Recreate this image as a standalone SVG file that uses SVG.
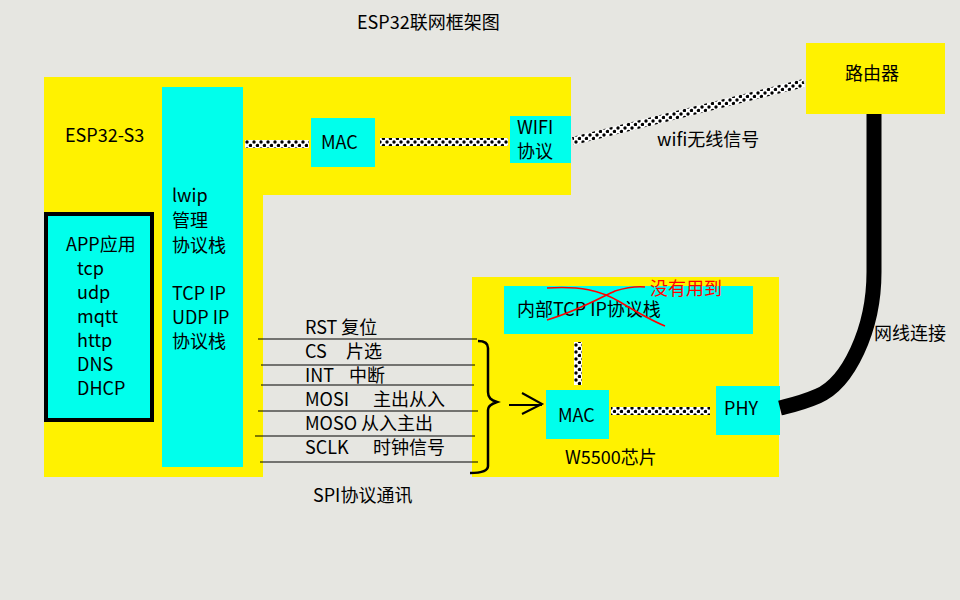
<svg xmlns="http://www.w3.org/2000/svg" width="960" height="600" viewBox="0 0 960 600">
<style>
text{font-family:"Noto Sans CJK SC","Noto Sans",sans-serif;font-size:18px;fill:#000}
.y{fill:#fff200}
.c{fill:#00ffec}
.dot{fill:none;stroke:url(#dots);stroke-width:8}
.thin{stroke:#000;stroke-width:1.2;fill:none}
.red{fill:#ff0000}
</style>
<defs>
<pattern id="dots" patternUnits="userSpaceOnUse" width="7" height="7">
<rect width="7" height="7" fill="#fff"/>
<circle cx="2" cy="2" r="1.7" fill="#000"/>
<circle cx="5.5" cy="5.5" r="1.7" fill="#000"/>
</pattern>
</defs>
<rect width="960" height="600" fill="#e6e6e1"/>
<text x="357" y="29">ESP32联网框架图</text>

<g id="esp32">
<path class="y" d="M44 77H571V195H263V477H44Z"/>
<text x="65" y="142">ESP32-S3</text>
</g>
<g id="lwip">
<rect class="c" x="162" y="87" width="81" height="380"/>
<text x="172" y="202">lwip</text>
<text x="172" y="227">管理</text>
<text x="172" y="252">协议栈</text>
<text x="172" y="300">TCP IP</text>
<text x="172" y="324">UDP IP</text>
<text x="172" y="348">协议栈</text>
</g>
<g id="app">
<rect class="c" x="46" y="214" width="106" height="206" stroke="#000" stroke-width="4"/>
<text x="66" y="251">APP应用</text>
<text x="77" y="275">tcp</text>
<text x="77" y="299">udp</text>
<text x="77" y="323">mqtt</text>
<text x="77" y="347">http</text>
<text x="77" y="371">DNS</text>
<text x="77" y="395">DHCP</text>
</g>
<g id="mac1">
<rect class="c" x="311" y="118" width="64" height="49"/>
<text x="321" y="149">MAC</text>
</g>
<g id="wifi">
<rect class="c" x="510" y="116" width="61" height="47"/>
<text x="517" y="134">WIFI</text>
<text x="517" y="158">协议</text>
</g>
<g id="router">
<rect class="y" x="806" y="43" width="139" height="71"/>
<text x="845" y="80">路由器</text>
</g>
<g id="w5500">
<rect class="y" x="472" y="277" width="307" height="200"/>
<text x="565" y="464">W5500芯片</text>
</g>
<g id="tcpip">
<rect class="c" x="504" y="286" width="249" height="48"/>
<text x="517" y="316">内部TCP IP协议栈</text>
<path d="M547 288C580 286 600 290 620 302C640 314 655 322 665 326" fill="none" stroke="#f00" stroke-width="1.6"/>
<path d="M547 320C575 312 600 298 615 291C625 288 635 286 645 287" fill="none" stroke="#f00" stroke-width="1.6"/>
<text class="red" x="650" y="295" font-size="19">没有用到</text>
</g>
<g id="mac2">
<rect class="c" x="546" y="390" width="63" height="49"/>
<text x="558" y="422">MAC</text>
</g>
<g id="phy">
<rect class="c" x="716" y="386" width="64" height="49"/>
<text x="724" y="415">PHY</text>
</g>

<g id="connectors">
<line class="dot" x1="245" y1="144" x2="309" y2="144"/>
<line class="dot" x1="380" y1="142" x2="508" y2="142"/>
<line class="dot" x1="573" y1="141" x2="804" y2="83"/>
<line class="dot" x1="578" y1="342" x2="578" y2="385"/>
<line class="dot" x1="611" y1="411" x2="710" y2="411"/>
<path d="M874 114V272C874 330 848 383 818 396C802 403 792 405 780 408" fill="none" stroke="#000" stroke-width="15"/>
<line class="thin" x1="258" y1="339" x2="477" y2="339"/>
<line class="thin" x1="261" y1="365" x2="475" y2="365"/>
<line class="thin" x1="261" y1="385" x2="474" y2="385"/>
<line class="thin" x1="258" y1="411" x2="478" y2="411"/>
<line class="thin" x1="255" y1="436" x2="475" y2="436"/>
<line class="thin" x1="260" y1="462" x2="478" y2="462"/>
<path d="M478 341C484 341 488 343 488 348V392C488 398 491 400 497 402C491 404 488 406 488 410V466C488 471 482 473 470 473" fill="none" stroke="#000" stroke-width="2.5"/>
<path d="M509 405H542M522 393L542 404L522 414" fill="none" stroke="#000" stroke-width="2"/>
</g>
<g id="labels">
<text x="305" y="334">RST 复位</text>
<text x="305" y="358">CS</text><text x="346" y="358">片选</text>
<text x="305" y="382">INT</text><text x="349" y="382">中断</text>
<text x="305" y="406">MOSI</text><text x="373" y="406">主出从入</text>
<text x="305" y="430">MOSO 从入主出</text>
<text x="305" y="454">SCLK</text><text x="373" y="454">时钟信号</text>
<text x="313" y="502">SPI协议通讯</text>
<text x="657" y="146">wifi无线信号</text>
<text x="874" y="340">网线连接</text>
</g>
</svg>
